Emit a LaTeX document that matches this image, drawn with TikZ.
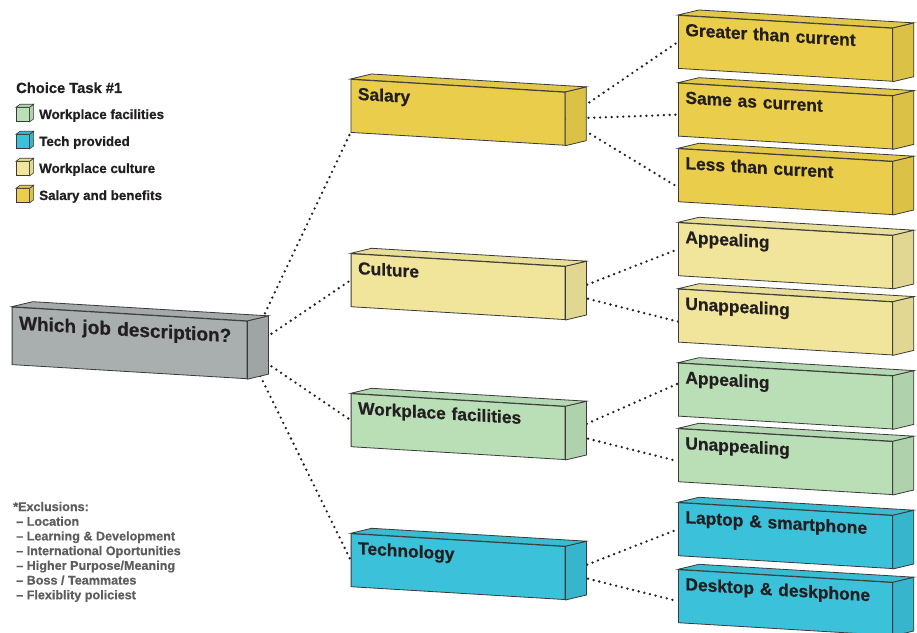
\documentclass[tikz,border=0pt]{standalone}
\usepackage{fontspec}
\setmainfont{Liberation Sans}[BoldFeatures={FakeBold=0.6}]
\usetikzlibrary{calc,backgrounds}
\definecolor{edge}{HTML}{3A3A3A}
\definecolor{ink}{HTML}{231F20}
\definecolor{dotc}{HTML}{222222}
\definecolor{salcol}{HTML}{E9CD4B}
\definecolor{culcol}{HTML}{F0E59B}
\definecolor{faccol}{HTML}{BADFB7}
\definecolor{techcol}{HTML}{3BC1D9}
\definecolor{rootcol}{HTML}{A9AEAE}
\definecolor{exclcol}{HTML}{5E5E5E}
\tikzset{
  cube/.style={draw=edge, line width=0.8pt, yslant=-0.06, transform shape, anchor=north west,
    inner xsep=7pt, inner ysep=0pt, align=left, text=ink, text height=20pt, text depth=33pt,
    font=\fontsize{17.4}{20}\selectfont\bfseries},
  link/.style={draw=dotc, line width=2.6pt, line cap=round, dash pattern=on 0pt off 5.8pt},
  mini/.style={draw=edge, line width=0.6pt, anchor=north west, inner sep=0pt, minimum width=13pt, minimum height=14pt},
  keytext/.style={anchor=base west, inner sep=0pt, text=ink, font=\fontsize{13.4}{16}\selectfont\bfseries},
  excl/.style={anchor=north west, align=left, inner sep=0pt, text=exclcol, font=\fontsize{12.6}{14.7}\selectfont\bfseries}
}
% front face is the node, side and top faces drawn from its corners
\newcommand{\cubebox}[7][]{%
  \node[cube, fill=#6, text width=#5, #1] (#2) at (#3,#4) {#7};
  \filldraw[draw=edge, line width=0.8pt, fill=#6!94!black] (#2.north east) -- ++(21,5) -- ($(#2.south east)+(21,5)$) -- (#2.south east) -- cycle;
  \filldraw[draw=edge, line width=0.8pt, fill=#6!97!black] (#2.north west) -- ++(21,5) -- ($(#2.north east)+(21,5)$) -- (#2.north east) -- cycle;
}

\begin{document}
\begin{tikzpicture}[x=1pt, y=1pt]
\useasboundingbox (0,0) rectangle (917,632);
\clip (0,0) rectangle (917,632);

% legend
\node[keytext, font=\fontsize{14.7}{17}\selectfont\bfseries] (title) at (16,539) {Choice Task \#1};
\foreach \col/\txt [count=\i from 0] in {faccol/Workplace facilities, techcol/Tech provided, culcol/Workplace culture, salcol/Salary and benefits}{
  \node[mini, fill=\col] (key\i) at (16,524.7-27*\i) {};
  \filldraw[draw=edge, line width=0.6pt, fill=\col!94!black] (key\i.north east) -- ++(4,3) -- ($(key\i.south east)+(4,3)$) -- (key\i.south east) -- cycle;
  \filldraw[draw=edge, line width=0.6pt, fill=\col!97!black] (key\i.north west) -- ++(4,3) -- ($(key\i.north east)+(4,3)$) -- (key\i.north east) -- cycle;
  \node[keytext] (lab\i) at (39,513-27*\i) {\txt};
}

% exclusions
\node[excl] (excl) at (13,130.3) {*Exclusions:\\
  \hspace*{3pt}– Location\\
  \hspace*{3pt}– Learning \& Development\\
  \hspace*{3pt}– International Oportunities\\
  \hspace*{3pt}– Higher Purpose/Meaning\\
  \hspace*{3pt}– Boss / Teammates\\
  \hspace*{3pt}– Flexiblity policiest};

% root and attributes
\cubebox[text height=22pt, text depth=35.5pt, font=\fontsize{19}{22}\selectfont\bfseries]{root}{11.7}{325.3}{221pt}{rootcol}{Which job description?}
\cubebox{sal}{350.5}{553}{200pt}{salcol}{Salary}
\cubebox{cul}{350.7}{378.7}{200pt}{culcol}{Culture}
\cubebox{fac}{350.7}{238.7}{200pt}{faccol}{Workplace facilities}
\cubebox{tech}{350.7}{98.7}{200pt}{techcol}{Technology}

% levels
\cubebox{great}{678}{617}{200pt}{salcol}{Greater than current}
\cubebox{same}{678}{549.3}{200pt}{salcol}{Same as current}
\cubebox{less}{678}{483.7}{200pt}{salcol}{Less than current}
\cubebox{appc}{678}{409.7}{200pt}{culcol}{Appealing}
\cubebox{unappc}{678}{343.3}{200pt}{culcol}{Unappealing}
\cubebox{appf}{678}{269.3}{200pt}{faccol}{Appealing}
\cubebox{unappf}{678}{203.7}{200pt}{faccol}{Unappealing}
\cubebox{laptop}{678}{129.7}{200pt}{techcol}{Laptop \& smartphone}
\cubebox{desk}{678}{62.7}{200pt}{techcol}{Desktop \& deskphone}

% dotted links, behind the boxes
\begin{scope}[on background layer]
\fill[white] (0,0) rectangle (917,632);
\draw[link] (root.east) -- (sal.south west);
\draw[link] (root.east) -- (cul.west);
\draw[link] (root.east) -- (fac.west);
\draw[link] (root.east) -- (tech.west);
\draw[link] (sal.east) -- (great.west);
\draw[link] (sal.east) -- ([yshift=-5pt]same.west);
\draw[link] (sal.east) -- ([yshift=-12pt]less.west);
\draw[link] (cul.east) -- (appc.west);
\draw[link] (cul.east) -- ([yshift=-6pt]unappc.west);
\draw[link] (fac.east) -- ([yshift=6pt]appf.west);
\draw[link] (fac.east) -- ([yshift=-6pt]unappf.west);
\draw[link] (tech.east) -- (laptop.west);
\draw[link] (tech.east) -- ([yshift=-5pt]desk.west);
\end{scope}
\end{tikzpicture}
\end{document}
